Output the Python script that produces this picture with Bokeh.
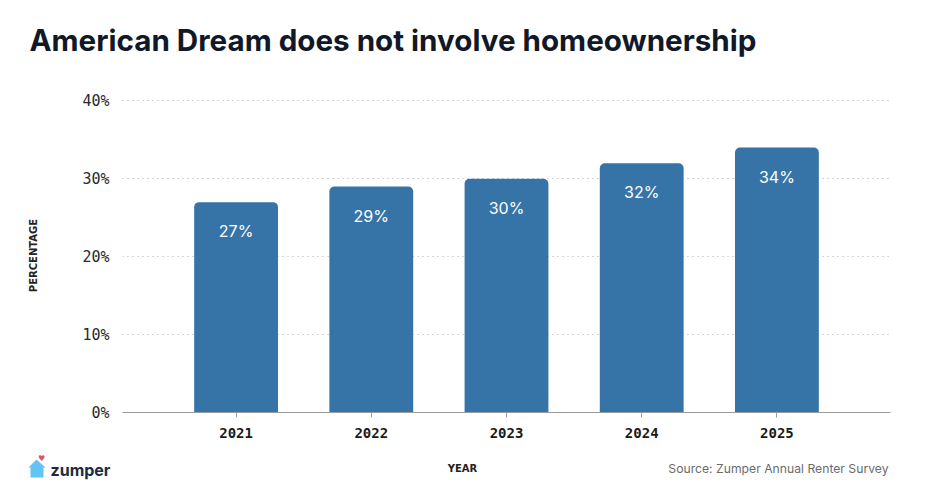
from bokeh.plotting import figure
from bokeh.layouts import column
from bokeh.models import FactorRange, Range1d, FixedTicker, ColumnDataSource
from bokeh.core.properties import value
from bokeh.embed import file_html
from bokeh.resources import INLINE

years = ["2021", "2022", "2023", "2024", "2025"]
pcts = [27, 29, 30, 32, 34]
bar_labels = ["27%", "29%", "30%", "32%", "34%"]
ytick_vals = [0, 10, 20, 30, 40]
ytick_labels = ["0%", "10%", "20%", "30%", "40%"]

title_text = "American Dream does not involve homeownership"
source_text = "Source: Zumper Annual Renter Survey"
x_title = "YEAR"
y_title = "PERCENTAGE"

W = 926
H_HEAD, H_MAIN, H_FOOT = 80, 370, 54


def blank(h):
    f = figure(width=W, height=h, x_range=Range1d(0, W), y_range=Range1d(h, 0),
               x_axis_type=None, y_axis_type=None, output_backend="svg",
               toolbar_location=None, min_border=0, frame_align=False)
    f.outline_line_color = None
    f.background_fill_color = "white"
    f.border_fill_color = "white"
    return f


# ---- header
head = blank(H_HEAD)
head.text(x=[29], y=[39], text=[title_text], text_font=value("Inter"),
          text_font_size="29.6px", text_font_style="bold", text_color="#111827",
          text_baseline="alphabetic", text_align="left")

# ---- main chart
src = ColumnDataSource(dict(year=years, pct=pcts, label=bar_labels))
p = figure(width=W, height=H_MAIN,
           x_range=FactorRange(*years, range_padding=0.34, range_padding_units="absolute"),
           y_range=Range1d(0, 40.3),
           output_backend="svg", toolbar_location=None, frame_align=False,
           min_border_left=122, min_border_right=36, min_border_top=18, min_border_bottom=38)
p.outline_line_color = None
p.background_fill_color = "white"
p.border_fill_color = "white"

p.vbar(x="year", top="pct", width=0.62, source=src, fill_color="#3674a8",
       line_color=None, border_radius=(5, 5, 0, 0))
p.text(x="year", y="pct", text="label", source=src, text_color="white",
       text_font=value("Inter"), text_font_size="16px", text_align="center",
       text_baseline="middle", y_offset=29)

p.yaxis.ticker = FixedTicker(ticks=ytick_vals)
p.yaxis.major_label_overrides = {v: l for v, l in zip(ytick_vals, ytick_labels)}
p.yaxis.axis_line_color = None
p.yaxis.major_tick_line_color = None
p.yaxis.minor_tick_line_color = None
p.yaxis.major_tick_out = 0
p.yaxis.major_tick_in = 0
p.yaxis.minor_tick_out = 0
p.yaxis.major_label_standoff = 13
p.yaxis.major_label_text_font = "DejaVu Sans Mono"
p.yaxis.major_label_text_font_size = "15px"
p.yaxis.major_label_text_color = "#2a2a2a"
p.yaxis.axis_label = y_title
p.yaxis.axis_label_text_font = "DejaVu Sans"
p.yaxis.axis_label_text_font_size = "10px"
p.yaxis.axis_label_text_font_style = "bold"
p.yaxis.axis_label_text_color = "#222222"
p.yaxis.axis_label_standoff = 40

p.xaxis.axis_line_color = "#9a9a9a"
p.xaxis.axis_line_width = 1
p.xaxis.major_tick_line_color = "#9a9a9a"
p.xaxis.major_tick_out = 5
p.xaxis.major_tick_in = 0
p.xaxis.major_label_standoff = 10
p.xaxis.major_label_text_font = "DejaVu Sans Mono"
p.xaxis.major_label_text_font_style = "bold"
p.xaxis.major_label_text_font_size = "14px"
p.xaxis.major_label_text_color = "#1a1a1a"

p.xgrid.grid_line_color = None
p.ygrid.grid_line_color = "#a8a8a8"
p.ygrid.grid_line_dash = "1 4"
p.ygrid.grid_line_width = 1

# ---- footer (starts 6px above the footer row of texts)
foot = blank(H_FOOT)
foot.text(x=[462], y=[18], text=[x_title], text_font=value("DejaVu Sans"),
          text_font_size="10px", text_font_style="bold", text_color="#222222",
          text_align="center", text_baseline="middle")
foot.text(x=[888], y=[18], text=[source_text], text_font=value("Inter"),
          text_font_size="12.2px", text_color="#6b6b6b",
          text_align="right", text_baseline="middle")
foot.text(x=[50], y=[19], text=["zumper"], text_font=value("Inter"),
          text_font_size="16px", text_font_style="bold", text_color="#1c2b3c",
          text_align="left", text_baseline="middle")
foot.patch(x=[28, 36, 45, 43, 43, 30, 30], y=[17, 9, 17, 17, 27, 27, 17],
           fill_color="#64c3f5", line_color=None)
foot.text(x=[41], y=[8], text=["\u2665"], text_font=value("DejaVu Sans"),
          text_font_size="8px", text_color="#e2506f",
          text_align="center", text_baseline="middle")

layout = column(head, p, foot, spacing=0)
open("out.html", "w").write(file_html(layout, INLINE))
